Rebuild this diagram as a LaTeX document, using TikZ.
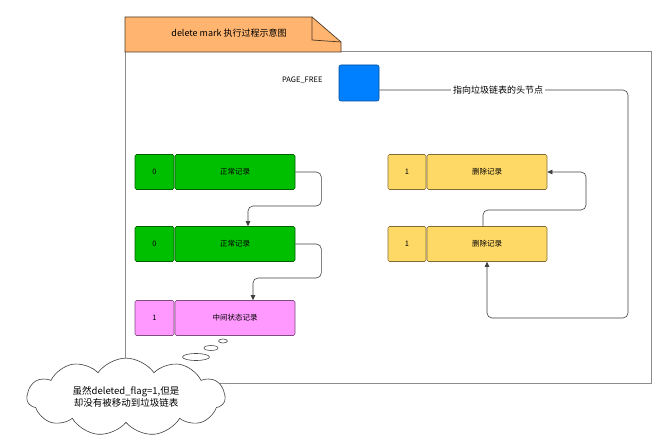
\documentclass[tikz,border=0pt]{standalone}
\usepackage{fontspec}
\setmainfont{Noto Sans CJK SC}
\usetikzlibrary{shapes.symbols,arrows.meta}
\definecolor{tabor}{HTML}{FFB570}
\definecolor{blueb}{HTML}{007FFF}
\definecolor{grn}{HTML}{00BE00}
\definecolor{pnk}{HTML}{FF99FF}
\definecolor{ylw}{HTML}{FFD966}
\tikzset{
  rec/.style={draw=#1!50!black, rounded corners=1.5pt, inner sep=0pt, font=\fontsize{7.5}{9}\selectfont, line width=0.6pt},
  conn/.style={draw=black!75, line width=0.6pt, rounded corners=5pt, -{Triangle[length=5pt,width=4.5pt]}},
}
\begin{document}
\begin{tikzpicture}[x=1pt,y=-1pt]
\useasboundingbox (0,0) rectangle (661,438);
% frame
\draw[black!45, line width=1pt] (125,52) rectangle (651,383);
% tab
\draw[fill=tabor, draw=black!70!tabor, line width=0.7pt] (125,52) -- (125,17) -- (312,17) -- (341,42) -- (341,52) -- cycle;
\draw[draw=black!70!tabor, line width=0.7pt] (312,17) -- (312,40) -- (341,42);
\node[font=\fontsize{9}{11}\selectfont] (title) at (229,33) {delete mark 执行过程示意图};
% page free
\node[draw=blueb!60!black, fill=blueb, rounded corners=2pt, minimum width=40pt, minimum height=36pt, line width=0.6pt] (pf) at (359,83) {};
\node[font=\fontsize{7.5}{9}\selectfont, anchor=east] (pfl) at (326,80) {PAGE\_FREE};
% rows
\foreach \n/\y/\c/\f/\t in {g1/172/grn/0/正常记录, g2/244/grn/0/正常记录, p1/318/pnk/1/中间状态记录}{
  \node[rec=\c, fill=\c, minimum width=39pt, minimum height=35pt] (\n a) at (154.5,\y) {\f};
  \node[rec=\c, fill=\c, minimum width=120pt, minimum height=35pt] (\n b) at (235,\y) {\t};
}
\foreach \n/\y in {y1/172, y2/244}{
  \node[rec=ylw, fill=ylw, minimum width=38pt, minimum height=35pt] (\n a) at (407,\y) {1};
  \node[rec=ylw, fill=ylw, minimum width=120pt, minimum height=35pt] (\n b) at (487,\y) {删除记录};
}
% connectors
\draw[conn] (g1b.east) -- ++(26,0) |- (248,206) -- (g2b.north -| 248,0);
\draw[conn] (g2b.east) -- ++(26,0) |- (253,278) -- (p1b.north -| 253,0);
\draw[conn] (y2b.north -| 483,0) |- (586,210) |- (y1b.east);
\draw[conn] (pf.east |- 0,90) -- (628,90) |- (487,318) -- (y2b.south -| 487,0);
\node[fill=white, inner sep=2pt, font=\fontsize{9}{11}\selectfont] (lbl) at (498,90) {指向垃圾链表的头节点};
% thought cloud
\draw[black!70, fill=white, line width=0.6pt] (196,357) ellipse (13.5pt and 3.5pt);
\draw[black!70, fill=white, line width=0.6pt] (211,348) ellipse (7pt and 2.5pt);
\draw[black!70, fill=white, line width=0.6pt] (223,341) ellipse (4.5pt and 2pt);
\node[cloud, cloud puffs=11, cloud puff arc=110, aspect=2.6, draw=black!75, fill=white, line width=0.6pt, minimum width=198pt, minimum height=66pt, inner sep=0pt, align=center, font=\fontsize{9.5}{12}\selectfont] (cl) at (126,397) {虽然deleted\_flag=1,但是\\却没有被移动到垃圾链表};
\end{tikzpicture}
\end{document}
